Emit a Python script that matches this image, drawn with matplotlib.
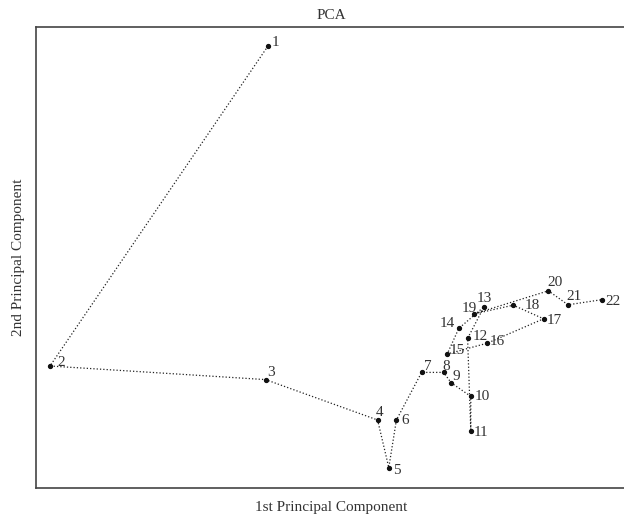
import matplotlib
matplotlib.use("Agg")
import matplotlib.pyplot as plt

plt.rcParams['font.family'] = ['Liberation Serif', 'DejaVu Serif']

labels = [str(i) for i in range(1, 23)]
pc1 = [-0.80, -6.25, -0.86, 1.94, 2.22, 2.41, 3.04, 3.59, 3.78, 4.27, 4.27,
       4.19, 4.60, 3.97, 3.68, 4.68, 6.09, 5.33, 4.34, 6.21, 6.70, 7.56]
pc2 = [7.60, -0.40, -0.74, -1.75, -2.94, -1.75, -0.56, -0.56, -0.82, -1.16, -2.03,
       0.29, 1.08, 0.54, -0.10, 0.17, 0.78, 1.12, 0.90, 1.48, 1.13, 1.26]

# label placement offsets (pixels, right / up) relative to each point
label_dx = [7.5, 11.3, 5, 1.5, 7.7, 8.7, 6.7, 3, 5, 11, 10.3,
            13, 0, -11.7, 10, 10, 10.3, 19, -4.7, 7, 6.3, 10.3]
label_dy = [5, 5.3, 9, 9.3, -1.3, 1, 7.7, 7, 8, 1.7, -0.3,
            3.3, 9.3, 6.3, 4.7, 3.3, 0, 1.3, 6.7, 9.3, 9.7, -0.3]

fig = plt.figure(figsize=(6.24, 5.19), dpi=100)
ax = fig.add_axes([36/624, 31/519, 590/624, 461/519])

ax.plot(pc1, pc2, linestyle=':', color='#222222', linewidth=0.9,
        marker='o', markersize=2.8, markerfacecolor='#111111',
        markeredgecolor='#111111')
px2pt = 72 / 100
for x, y, t, dx, dy in zip(pc1, pc2, labels, label_dx, label_dy):
    ax.annotate(t, (x, y), xytext=(dx * px2pt, dy * px2pt), textcoords='offset points',
                fontsize=11, color='#333333', ha='center', va='center_baseline')

ax.set_xlim(-6.6, 8.15)
ax.set_ylim(-3.45, 8.075)
ax.set_xticks([])
ax.set_yticks([])
for s in ax.spines.values():
    s.set_color('#444444')
    s.set_linewidth(1.2)

ax.set_title('PCA', fontsize=11, color='#333333', pad=6)
ax.set_xlabel('1st Principal Component', fontsize=11, color='#333333', labelpad=9)
ax.set_ylabel('2nd Principal Component', fontsize=11, color='#333333', labelpad=8)

fig.savefig('out.png', dpi=100)
